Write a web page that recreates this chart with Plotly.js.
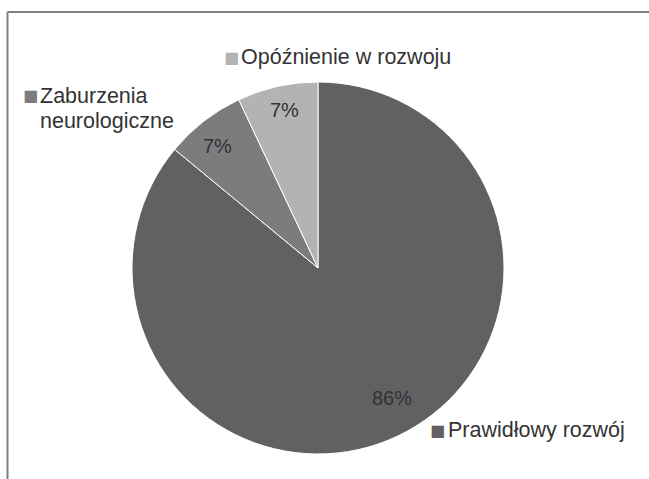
<!DOCTYPE html>
<html>
<head>
<meta charset="utf-8">
<script src="https://cdn.plot.ly/plotly-3.0.1.min.js"></script>
<style>html,body{margin:0;padding:0;background:#fff;}</style>
</head>
<body>
<div id="chart" style="width:649px;height:479px;"></div>
<script>
const categories = ["Prawidłowy rozwój", "Zaburzenia neurologiczne", "Opóźnienie w rozwoju"];
const labelLines = [["Prawidłowy rozwój"], ["Zaburzenia", "neurologiczne"], ["Opóźnienie w rozwoju"]];
const values = [86, 7, 7];
const colors = ["#616163", "#7c7c7e", "#b3b3b3"];

const W = 649, H = 479;
const px = x => x / W;
const py = y => 1 - y / H;

const total = values.reduce((a, b) => a + b, 0);
const pct = values.map(v => Math.round(v / total * 100) + '%');

const data = [{
  type: 'pie',
  labels: categories,
  values: values,
  sort: false,
  direction: 'clockwise',
  rotation: 0,
  marker: { colors: colors, line: { color: '#ffffff', width: 1 } },
  textinfo: 'none',
  hoverinfo: 'none',
  showlegend: false,
  domain: { x: [px(132), px(504)], y: [py(454), py(82)] }
}];

const labelFont = { family: 'Liberation Sans, Arial, sans-serif', size: 21.5, color: '#333333' };
const pctFont = { family: 'Liberation Sans, Arial, sans-serif', size: 20, color: '#333333' };

// placement of category labels: key square centre, text start, line centres
const keyPos = [[437, 430], [30, 96], [232, 57]];
const textX = [449, 41, 242];
const lineY = [[430], [96, 121], [57]];
// positions of percentage labels (inside slices)
const pctPos = [[392, 398], [217, 146], [284, 110]];

const annotations = [];
categories.forEach((c, i) => {
  annotations.push({ xref: 'paper', yref: 'paper', x: px(keyPos[i][0]), y: py(keyPos[i][1]),
    xanchor: 'center', yanchor: 'middle', showarrow: false,
    text: '■', font: { family: 'DejaVu Sans', size: 16, color: colors[i] } });
  labelLines[i].forEach((t, j) => {
    annotations.push({ xref: 'paper', yref: 'paper', x: px(textX[i] - 3), y: py(lineY[i][j]),
      xanchor: 'left', yanchor: 'middle', showarrow: false, align: 'left', text: t, font: labelFont });
  });
  annotations.push({ xref: 'paper', yref: 'paper', x: px(pctPos[i][0]), y: py(pctPos[i][1]),
    xanchor: 'center', yanchor: 'middle', showarrow: false, text: pct[i], font: pctFont });
});

const layout = {
  width: W, height: H,
  margin: { l: 0, r: 0, t: 0, b: 0 },
  paper_bgcolor: '#ffffff',
  showlegend: false,
  shapes: [
    { type: 'line', xref: 'paper', yref: 'paper', x0: px(7.5), x1: 1, y0: py(12), y1: py(12), line: { color: '#808080', width: 2 } },
    { type: 'line', xref: 'paper', yref: 'paper', x0: px(7.5), x1: px(7.5), y0: py(12), y1: 0, line: { color: '#808080', width: 2 } }
  ],
  annotations: annotations
};

Plotly.newPlot('chart', data, layout, { displayModeBar: false, staticPlot: true });
</script>
</body>
</html>
